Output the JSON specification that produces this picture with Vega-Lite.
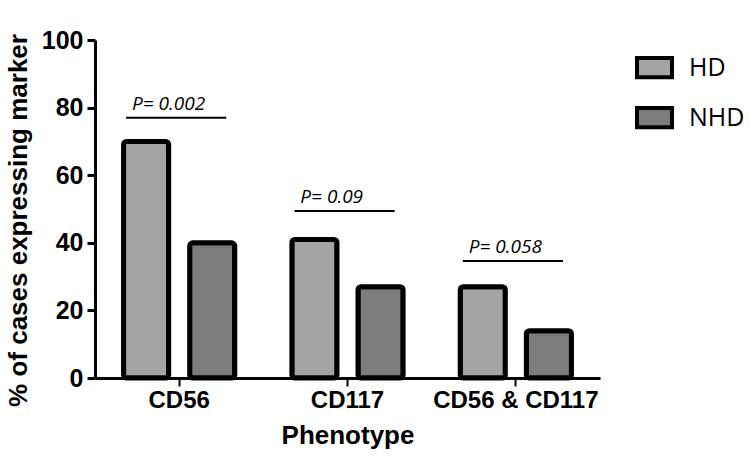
{
  "$schema": "https://vega.github.io/schema/vega-lite/v6.json",
  "width": 505,
  "height": 338,
  "autosize": {"type": "none"},
  "padding": {"left": 95, "top": 40, "right": 150, "bottom": 82},
  "background": "white",
  "config": {
    "view": {"stroke": null},
    "font": "Liberation Sans",
    "axis": {"grid": false, "domainColor": "black", "tickColor": "black", "labelColor": "black", "titleColor": "black"}
  },
  "datasets": {
    "bars": [
      {"phenotype": "CD56", "group": "HD", "value": 70},
      {"phenotype": "CD56", "group": "NHD", "value": 40},
      {"phenotype": "CD117", "group": "HD", "value": 41},
      {"phenotype": "CD117", "group": "NHD", "value": 27},
      {"phenotype": "CD56 & CD117", "group": "HD", "value": 27},
      {"phenotype": "CD56 & CD117", "group": "NHD", "value": 14}
    ],
    "pvals": [
      {"phenotype": "CD56", "label": "P= 0.002", "y": 77},
      {"phenotype": "CD117", "label": "P= 0.09", "y": 49.4},
      {"phenotype": "CD56 & CD117", "label": "P= 0.058", "y": 34.6}
    ]
  },
  "layer": [
    {
      "data": {"name": "bars"},
      "mark": {"type": "bar", "stroke": "black", "strokeWidth": 5, "cornerRadius": 3},
      "encoding": {
        "x": {
          "field": "phenotype", "type": "nominal",
          "sort": ["CD56", "CD117", "CD56 & CD117"],
          "scale": {"paddingInner": 0, "paddingOuter": 0},
          "axis": {
            "title": "Phenotype", "labelAngle": 0,
            "labelFont": "Liberation Sans", "labelFontWeight": "bold", "labelFontSize": 24,
            "titleFont": "Liberation Sans", "titleFontWeight": "bold", "titleFontSize": 26,
            "domainWidth": 3, "tickWidth": 2, "tickSize": 8, "labelPadding": 2, "titlePadding": 10
          }
        },
        "xOffset": {
          "field": "group", "type": "nominal", "sort": ["HD", "NHD"],
          "scale": {"paddingInner": 0.318, "paddingOuter": 0.432}
        },
        "y": {
          "field": "value", "type": "quantitative",
          "scale": {"domain": [0, 100], "nice": false},
          "axis": {
            "title": "% of cases expressing marker", "values": [0, 20, 40, 60, 80, 100],
            "labelFont": "Liberation Sans", "labelFontWeight": "bold", "labelFontSize": 25,
            "titleFont": "Liberation Sans", "titleFontWeight": "bold", "titleFontSize": 26,
            "domainWidth": 3, "tickWidth": 3, "tickSize": 8, "labelPadding": 4, "titlePadding": 10,
            "titleY": 180
          }
        },
        "fill": {
          "field": "group", "type": "nominal",
          "scale": {"domain": ["HD", "NHD"], "range": ["#a4a4a4", "#7c7c7c"]},
          "legend": {
            "title": null, "orient": "none", "legendX": 540, "legendY": 8, "padding": 0,
            "symbolType": "M-1,-0.55H1V0.55H-1Z", "symbolSize": 1225,
            "symbolStrokeColor": "black", "symbolStrokeWidth": 4,
            "labelFont": "Open Sans", "labelFontSize": 25, "labelColor": "black",
            "labelOffset": 15, "rowPadding": 12
          }
        }
      }
    },
    {
      "data": {"name": "pvals"},
      "mark": {"type": "rule", "stroke": "black", "strokeWidth": 2},
      "encoding": {
        "x": {"field": "phenotype", "type": "nominal", "sort": ["CD56", "CD117", "CD56 & CD117"], "bandPosition": 0.185},
        "x2": {"field": "phenotype", "bandPosition": 0.78},
        "y": {"field": "y", "type": "quantitative"}
      }
    },
    {
      "data": {"name": "pvals"},
      "mark": {"type": "text", "align": "left", "baseline": "middle", "dy": -14, "font": "Open Sans", "fontStyle": "italic", "fontSize": 19, "color": "black"},
      "encoding": {
        "x": {"field": "phenotype", "type": "nominal", "sort": ["CD56", "CD117", "CD56 & CD117"], "bandPosition": 0.22},
        "y": {"field": "y", "type": "quantitative"},
        "text": {"field": "label"}
      }
    }
  ]
}
